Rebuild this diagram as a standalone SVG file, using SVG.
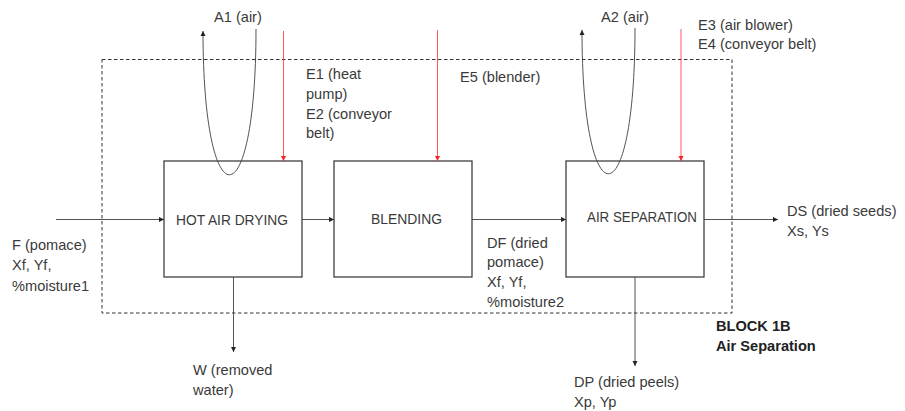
<svg xmlns="http://www.w3.org/2000/svg" width="905" height="411" viewBox="0 0 905 411">
<style>
text{font-family:"Liberation Sans",Arial,sans-serif;font-size:14.6px;fill:#3a3a3a}
.b{font-weight:bold;fill:#222}
.box{fill:#fff;stroke:#404040;stroke-width:1.3}
.c{fill:none;stroke:#404040;stroke-width:0.9}
.red{fill:none;stroke:#ff3030;stroke-width:0.8}
.dash{fill:none;stroke:#333;stroke-width:1;stroke-dasharray:3.5 2.5}
</style>
<defs>
<marker id="ah" markerWidth="6" markerHeight="6" refX="5" refY="3" orient="auto" markerUnits="userSpaceOnUse"><path d="M0,0.5 L5,3 L0,5.5Z" fill="#222"/></marker>
<marker id="ahr" markerWidth="6" markerHeight="6" refX="5" refY="3" orient="auto" markerUnits="userSpaceOnUse"><path d="M0,0.5 L5,3 L0,5.5Z" fill="#ff2020"/></marker>
</defs>
<rect width="905" height="411" fill="#fff"/>
<g id="block">
<rect class="dash" x="102" y="59.5" width="630" height="253.5"/>
<text class="b" x="716" y="331">BLOCK 1B</text>
<text class="b" x="716" y="351">Air Separation</text>
</g>
<g id="hot-air-drying">
<rect class="box" x="164" y="161" width="138" height="116"/>
<text x="176" y="225" textLength="112" lengthAdjust="spacingAndGlyphs">HOT AIR DRYING</text>
</g>
<g id="blending">
<rect class="box" x="334" y="161" width="138" height="116"/>
<text x="371" y="224" textLength="71" lengthAdjust="spacingAndGlyphs">BLENDING</text>
</g>
<g id="air-separation">
<rect class="box" x="566" y="161" width="138" height="116"/>
<text x="587" y="222" textLength="110" lengthAdjust="spacingAndGlyphs">AIR SEPARATION</text>
</g>
<g id="connectors">
<line class="c" x1="56" y1="219.5" x2="164" y2="219.5" marker-end="url(#ah)"/>
<line class="c" x1="302" y1="219.5" x2="334" y2="219.5" marker-end="url(#ah)"/>
<line class="c" x1="472" y1="219.5" x2="566" y2="219.5" marker-end="url(#ah)"/>
<line class="c" x1="704" y1="219.5" x2="778" y2="219.5" marker-end="url(#ah)"/>
<line class="c" x1="233.5" y1="277" x2="233.5" y2="352" marker-end="url(#ah)"/>
<line class="c" x1="635" y1="277" x2="635" y2="366" marker-end="url(#ah)"/>
<path class="c" d="M256,29 C256,223 203,223 203,31" marker-end="url(#ah)"/>
<path class="c" d="M635,28 C635,222 582,222 582,30" marker-end="url(#ah)"/>
<line class="red" x1="283.5" y1="31" x2="283.5" y2="161" marker-end="url(#ahr)"/>
<line class="red" x1="437.5" y1="30" x2="437.5" y2="161" marker-end="url(#ahr)"/>
<line class="red" x1="681" y1="29" x2="681" y2="161" marker-end="url(#ahr)"/>
</g>
<g id="labels">
<text x="214" y="22">A1 (air)</text>
<text x="601" y="22">A2 (air)</text>
<text x="698" y="30">E3 (air blower)</text>
<text x="698" y="49">E4 (conveyor belt)</text>
<text x="306" y="79">E1 (heat</text>
<text x="306" y="99">pump)</text>
<text x="306" y="119">E2 (conveyor</text>
<text x="306" y="138">belt)</text>
<text x="460" y="82">E5 (blender)</text>
<text x="12" y="250">F (pomace)</text>
<text x="12" y="270">Xf, Yf,</text>
<text x="12" y="291">%moisture1</text>
<text x="193" y="375">W (removed</text>
<text x="193" y="395">water)</text>
<text x="487" y="248">DF (dried</text>
<text x="487" y="267">pomace)</text>
<text x="487" y="287">Xf, Yf,</text>
<text x="487" y="307">%moisture2</text>
<text x="787" y="216">DS (dried seeds)</text>
<text x="787" y="236">Xs, Ys</text>
<text x="574" y="387">DP (dried peels)</text>
<text x="574" y="407">Xp, Yp</text>
</g>
</svg>
